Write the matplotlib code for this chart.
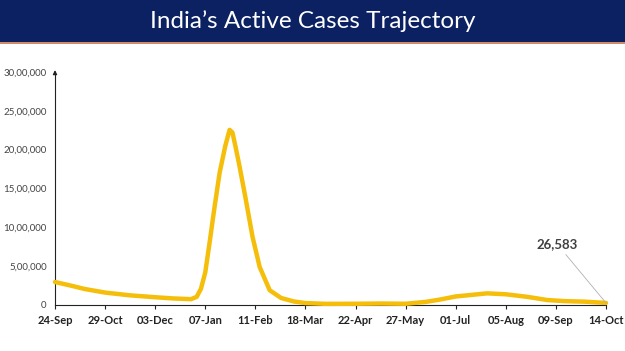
import pandas as pd
import matplotlib.pyplot as plt
import matplotlib.dates as mdates
from matplotlib.ticker import FuncFormatter
from matplotlib.patches import Rectangle

# active cases
dates = ['2021-09-24', '2021-10-05', '2021-10-15', '2021-10-29', '2021-11-15',
         '2021-12-03', '2021-12-15', '2021-12-28', '2022-01-01', '2022-01-04',
         '2022-01-07', '2022-01-10', '2022-01-13', '2022-01-17', '2022-01-21',
         '2022-01-24', '2022-01-26', '2022-01-28', '2022-01-31', '2022-02-04',
         '2022-02-09', '2022-02-14', '2022-02-21', '2022-03-01', '2022-03-10',
         '2022-03-18', '2022-04-01', '2022-04-22', '2022-05-10', '2022-05-27',
         '2022-06-10', '2022-06-20', '2022-07-01', '2022-07-12', '2022-07-23',
         '2022-08-05', '2022-08-20', '2022-09-03', '2022-09-15', '2022-09-29',
         '2022-10-14']
active = [296000, 250000, 205000, 160000, 125000,
          100000, 85000, 75000, 105000, 210000,
          420000, 800000, 1200000, 1700000, 2050000,
          2255000, 2220000, 2050000, 1780000, 1390000,
          880000, 490000, 190000, 90000, 45000,
          25000, 15000, 16000, 19000, 16000,
          40000, 70000, 110000, 130000, 150000,
          138000, 105000, 64000, 50000, 43000,
          26583]
tick_dates = ['2021-09-24', '2021-10-29', '2021-12-03', '2022-01-07', '2022-02-11',
              '2022-03-18', '2022-04-22', '2022-05-27', '2022-07-01', '2022-08-05',
              '2022-09-09', '2022-10-14']
title = "India\u2019s Active Cases Trajectory"

x = pd.to_datetime(dates)
ticks = pd.to_datetime(tick_dates)

def indian_fmt(v, pos=None):
    v = int(round(v))
    if v == 0:
        return '0'
    s = str(v)
    last3 = s[-3:]
    rest = s[:-3]
    parts = []
    while len(rest) > 2:
        parts.insert(0, rest[-2:])
        rest = rest[:-2]
    if rest:
        parts.insert(0, rest)
    return ','.join(parts + [last3])

plt.rcParams['font.family'] = ['Lato', 'DejaVu Sans']
fig = plt.figure(figsize=(6.25, 3.51), dpi=100)

# title banner
fig.patches.append(Rectangle((0, 1 - 42 / 351), 1, 42 / 351, transform=fig.transFigure,
                             facecolor='#0B2161', edgecolor='none', zorder=0))
fig.patches.append(Rectangle((0, 1 - 44 / 351), 1, 2 / 351, transform=fig.transFigure,
                             facecolor='#D08A6A', edgecolor='none', zorder=0))
fig.text(0.5, 1 - 21 / 351, title, color='white', fontsize=17.5, ha='center', va='center')

ax = fig.add_axes([55 / 625, 1 - 305 / 351, (606 - 55) / 625, (305 - 72) / 351])
ax.plot(x, active, color='#F5BE0A', lw=3.2, solid_joinstyle='round', solid_capstyle='round',
        clip_on=False, zorder=3)

ax.set_xlim(ticks[0], ticks[-1])
ax.set_ylim(0, 3000000)
ax.set_xticks(ticks)
ax.xaxis.set_major_formatter(mdates.DateFormatter('%d-%b'))
ax.set_yticks(range(0, 3000001, 500000))
ax.yaxis.set_major_formatter(FuncFormatter(indian_fmt))

for s in ['top', 'right']:
    ax.spines[s].set_visible(False)
ax.spines['left'].set_color('#222222')
ax.spines['bottom'].set_color('#222222')
ax.tick_params(axis='y', length=0, labelsize=7, labelcolor='#444444', pad=6)
ax.tick_params(axis='x', length=3, direction='out', labelsize=8, labelcolor='#222222', pad=4,
               color='#222222')
for lbl in ax.get_xticklabels():
    lbl.set_fontweight('bold')

# arrow on y axis
ax.annotate('', xy=(0, 1.02), xycoords='axes fraction', xytext=(0, 0.98),
            arrowprops=dict(arrowstyle='-|>', color='#222222', lw=0.8, mutation_scale=6))

# last value label
ax.annotate(indian_fmt(active[-1]), xy=(x[-1], active[-1]), xytext=(x[-1] - pd.Timedelta(days=20), 790000),
            fontsize=9.5, fontweight='bold', color='#404040', ha='right', va='center',
            arrowprops=dict(arrowstyle='-', color='#B0B0B0', lw=0.6, shrinkA=2, shrinkB=0))

fig.savefig('out.png', dpi=100)
